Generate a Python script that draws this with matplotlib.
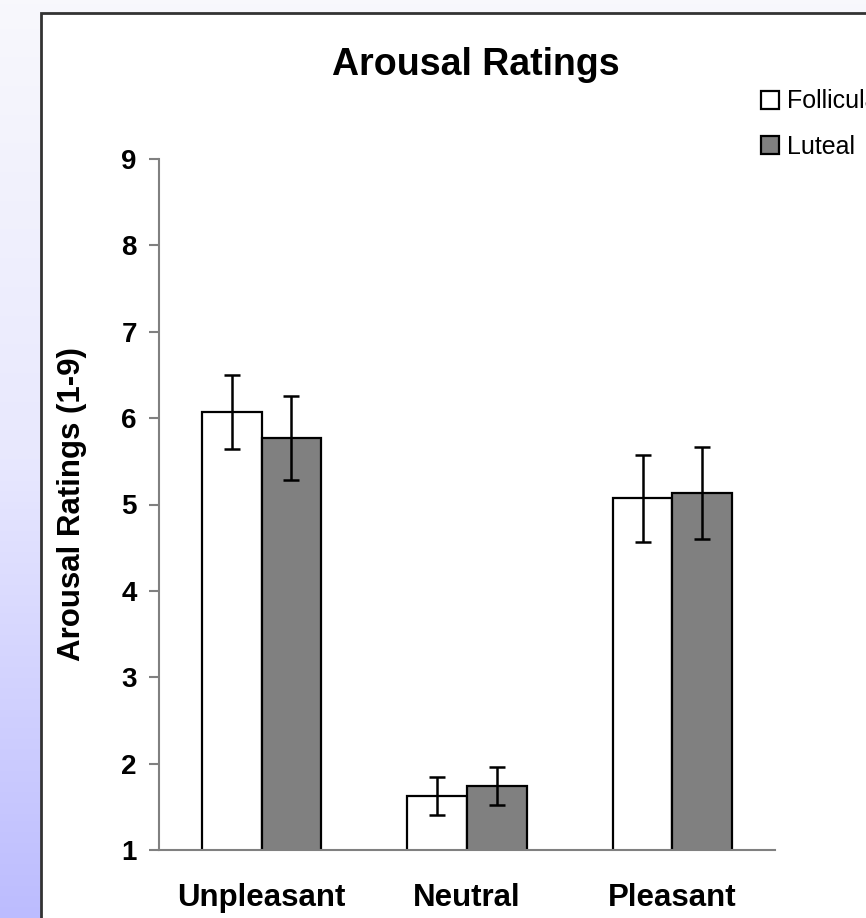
import numpy as np
import matplotlib.pyplot as plt
from matplotlib.patches import Rectangle
from matplotlib.colors import LinearSegmentedColormap

plt.rcParams['font.family'] = ['Liberation Sans', 'DejaVu Sans']

categories = ['Unpleasant', 'Neutral', 'Pleasant']
follicular = [6.07, 1.62, 5.07]
follicular_err = [0.43, 0.22, 0.50]
luteal = [5.77, 1.74, 5.13]
luteal_err = [0.49, 0.22, 0.53]
yticks = [1, 2, 3, 4, 5, 6, 7, 8, 9]

W, H = 866, 918
fig = plt.figure(figsize=(W / 100, H / 100), dpi=100)

# lavender slide background
bg = fig.add_axes([0, 0, 1, 1], zorder=-10)
cmap = LinearSegmentedColormap.from_list(
    'slide', [(0.0, '#f8f8fc'), (0.5, '#e8e8fe'), (1.0, '#bcbcfe')])
grad = np.linspace(0, 1, 256).reshape(-1, 1)
bg.imshow(grad, aspect='auto', cmap=cmap, extent=[0, 1, 0, 1], origin='upper')
bg.set_axis_off()

# white chart panel
panel = Rectangle((41 / W, -0.05), 1.1, (H - 13) / H + 0.05,
                  transform=fig.transFigure, facecolor='white',
                  edgecolor='#333333', linewidth=2, zorder=-5)
fig.add_artist(panel)

ax = fig.add_axes([159 / W, (H - 850) / H, (775 - 159) / W, (850 - 159) / H])
ax.patch.set_alpha(0)

x = np.arange(len(categories))
w = 0.29
err_kw = dict(ecolor='black', elinewidth=1.8, capsize=6, capthick=1.8)
b1 = ax.bar(x - w / 2, follicular, w, color='white', edgecolor='black',
            linewidth=1.6, yerr=follicular_err, error_kw=err_kw, label='Follicular')
b2 = ax.bar(x + w / 2, luteal, w, color='#808080', edgecolor='black',
            linewidth=1.6, yerr=luteal_err, error_kw=err_kw, label='Luteal')

ax.set_xlim(-0.5, 2.5)
ax.set_ylim(1, 9)
ax.set_yticks(yticks)
ax.set_yticklabels([str(t) for t in yticks], fontsize=20, fontweight='bold')
ax.set_xticks(x)
ax.set_xticklabels(categories, fontsize=22.5, fontweight='bold')
ax.tick_params(axis='x', length=0, pad=24)
ax.tick_params(axis='y', length=7, width=1.5, color='#808080', pad=9)
for s in ['top', 'right']:
    ax.spines[s].set_visible(False)
for s in ['left', 'bottom']:
    ax.spines[s].set_color('#808080')
    ax.spines[s].set_linewidth(1.5)

ax.set_ylabel('Arousal Ratings (1-9)', fontsize=22.5, fontweight='bold', labelpad=25)
fig.text(476 / W, 1 - 65 / H, 'Arousal Ratings', fontsize=27, fontweight='bold',
         ha='center', va='center')

fig.legend(handles=[b1, b2], labels=['Follicular', 'Luteal'],
           loc='upper left', bbox_to_anchor=(748 / W, 1 - 77 / H),
           frameon=False, fontsize=18, handlelength=0.75, handleheight=0.75,
           handletextpad=0.3, labelspacing=0.85, borderpad=0)

fig.savefig('out.png', dpi=100)
